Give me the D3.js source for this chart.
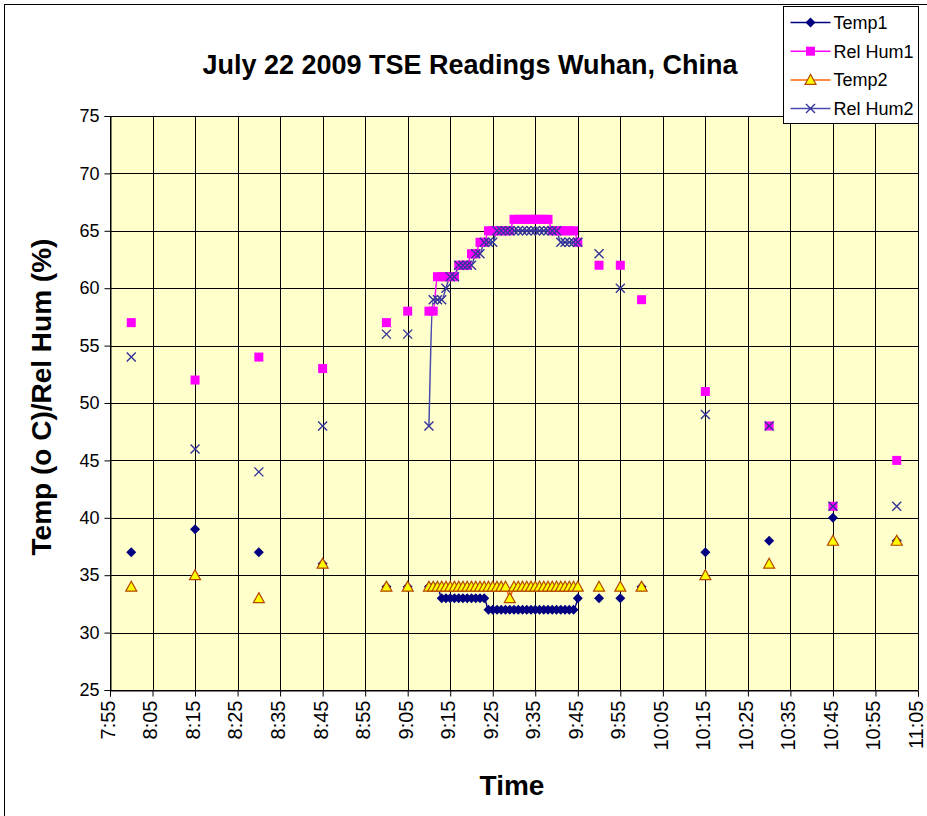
<!DOCTYPE html>
<html>
<head>
<meta charset="utf-8">
<script src="https://cdn.jsdelivr.net/npm/d3@7"></script>
<style>
  body { margin: 0; background: #fff; }
  svg { display: block; font-family: "Liberation Sans", Arial, sans-serif; }
</style>
</head>
<body>
<svg id="chart" width="927" height="816"></svg>
<script>

  // readings, one entry per time
  const times = [
    "8:00", "8:15", "8:30", "8:45", "9:00", "9:05",
    "9:10", "9:11", "9:12", "9:13", "9:14", "9:15", "9:16", "9:17", "9:18", "9:19",
    "9:20", "9:21", "9:22", "9:23", "9:24", "9:25", "9:26", "9:27", "9:28", "9:29",
    "9:30", "9:31", "9:32", "9:33", "9:34", "9:35", "9:36", "9:37", "9:38", "9:39",
    "9:40", "9:41", "9:42", "9:43", "9:44", "9:45",
    "9:50", "9:55", "10:00", "10:15", "10:30", "10:45", "11:00"
  ];

  const temp1 = [
    37, 39, 37, 36, 34, 34,
    34, 34, 34, 33, 33, 33, 33, 33, 33, 33,
    33, 33, 33, 33, 32, 32, 32, 32, 32, 32,
    32, 32, 32, 32, 32, 32, 32, 32, 32, 32,
    32, 32, 32, 32, 32, 33,
    33, 33, 34, 37, 38, 40, 38
  ];

  const relHum1 = [
    57, 52, 54, 53, 57, 58,
    58, 58, 61, 61, 61, 61, 61, 62, 62, 62,
    63, 63, 64, 64, 65, 65, 65, 65, 65, 65,
    66, 66, 66, 66, 66, 66, 66, 66, 66, 65,
    65, 65, 65, 65, 65, 64,
    62, 62, 59, 51, 48, 41, 45
  ];

  const temp2 = [
    34, 35, 33, 36, 34, 34,
    34, 34, 34, 34, 34, 34, 34, 34, 34, 34,
    34, 34, 34, 34, 34, 34, 34, 34, 34, 33,
    34, 34, 34, 34, 34, 34, 34, 34, 34, 34,
    34, 34, 34, 34, 34, 34,
    34, 34, 34, 35, 36, 38, 38
  ];

  const relHum2 = [
    54, 46, 44, 48, 56, 56,
    48, 59, 59, 59, 60, 61, 61, 62, 62, 62,
    62, 63, 63, 64, 64, 64, 65, 65, 65, 65,
    65, 65, 65, 65, 65, 65, 65, 65, 65, 65,
    65, 64, 64, 64, 64, 64,
    63, 60, null, 49, 48, 41, 41
  ];

  const seriesNames = ["Temp1", "Rel Hum1", "Temp2", "Rel Hum2"];
  const xTickLabels = ["7:55", "8:05", "8:15", "8:25", "8:35", "8:45", "8:55", "9:05", "9:15", "9:25",
                       "9:35", "9:45", "9:55", "10:05", "10:15", "10:25", "10:35", "10:45", "10:55", "11:05"];
  const yTicks = [25, 30, 35, 40, 45, 50, 55, 60, 65, 70, 75];

  const TITLE = "July 22 2009 TSE Readings Wuhan, China";
  const X_TITLE = "Time";
  const Y_TITLE = "Temp (o C)/Rel Hum (%)";

  // look of each series
  const styles = [
    { line: "#000080", fill: "#000080", stroke: "#000080", symbol: "diamond" },
    { line: "#FF00FF", fill: "#FF00FF", stroke: "#FF00FF", symbol: "square" },
    { line: "#FF6600", fill: "#FFFF00", stroke: "#B34700", symbol: "triangle" },
    { line: "#4B4BAE", fill: "none", stroke: "#333399", symbol: "cross" }
  ];

  const plot = { left: 110, right: 918, top: 116, bottom: 690 };

  function to_minutes(t) {
    const p = t.split(":");
    return +p[0] * 60 + +p[1];
  }

  const x = d3.scaleLinear()
    .domain([to_minutes(xTickLabels[0]), to_minutes(xTickLabels[xTickLabels.length - 1])])
    .range([plot.left, plot.right]);

  const y = d3.scaleLinear()
    .domain([25, 75])
    .range([plot.bottom, plot.top]);

  const svg = d3.select("#chart");

  // outer chart border
  svg.append("rect")
    .attr("x", 4.5).attr("y", 4.5)
    .attr("width", 960).attr("height", 840)
    .attr("fill", "#fff").attr("stroke", "#000").attr("stroke-width", 1);

  // plot background
  svg.append("rect")
    .attr("x", plot.left).attr("y", plot.top)
    .attr("width", plot.right - plot.left).attr("height", plot.bottom - plot.top)
    .attr("fill", "#FFFFCC");

  // grid
  const tickMinutes = xTickLabels.map(to_minutes);
  svg.append("g").selectAll("line.v")
    .data(tickMinutes)
    .join("line")
    .attr("x1", d => Math.round(x(d)) + 0.5).attr("x2", d => Math.round(x(d)) + 0.5)
    .attr("y1", plot.top).attr("y2", plot.bottom)
    .attr("stroke", "#000").attr("stroke-width", 1);

  svg.append("g").selectAll("line.h")
    .data(yTicks)
    .join("line")
    .attr("x1", plot.left).attr("x2", plot.right)
    .attr("y1", d => Math.round(y(d)) + 0.5).attr("y2", d => Math.round(y(d)) + 0.5)
    .attr("stroke", "#000").attr("stroke-width", 1);

  // axes
  const yAxis = d3.axisLeft(y).tickValues(yTicks).tickSize(6).tickPadding(5);
  const gy = svg.append("g")
    .attr("transform", "translate(" + (plot.left + 0.5) + ",0)")
    .call(yAxis);
  gy.select(".domain").attr("stroke", "#000");
  gy.selectAll("text").attr("font-size", 18).attr("font-family", "Liberation Sans, Arial, sans-serif").attr("fill", "#000");

  const xAxis = d3.axisBottom(x).tickValues(tickMinutes).tickSize(6)
    .tickFormat((d, i) => xTickLabels[i]);
  const gx = svg.append("g")
    .attr("transform", "translate(0," + (plot.bottom + 0.5) + ")")
    .call(xAxis);
  gx.select(".domain").attr("stroke", "#000");
  gx.selectAll("text")
    .attr("font-size", 20)
    .attr("font-family", "Liberation Sans, Arial, sans-serif")
    .attr("fill", "#000")
    .attr("text-anchor", "end")
    .attr("transform", "rotate(-90)")
    .attr("x", -10).attr("y", 0).attr("dy", "0.22em");

  // series data
  const mins = times.map(to_minutes);
  const allSeries = [temp1, relHum1, temp2, relHum2].map(function (vals, s) {
    return {
      name: seriesNames[s],
      style: styles[s],
      points: vals.map((v, i) => ({ m: mins[i], v: v })).filter(p => p.v != null)
    };
  });

  // lines only join readings taken one minute apart
  function runs(points) {
    let out = [];
    let cur = [];
    for (let i = 0; i < points.length; i++) {
      if (cur.length && points[i].m - cur[cur.length - 1].m !== 1) {
        out.push(cur);
        cur = [];
      }
      cur.push(points[i]);
    }
    if (cur.length) out.push(cur);
    return out.filter(r => r.length > 1);
  }

  const line = d3.line()
    .x(p => x(p.m))
    .y(p => y(p.v))
    .curve(d3.curveMonotoneX);

  allSeries.forEach(function (s) {
    svg.append("g").selectAll("path")
      .data(runs(s.points))
      .join("path")
      .attr("d", line)
      .attr("fill", "none")
      .attr("stroke", s.style.line)
      .attr("stroke-width", 1.5);
  });

  function marker(g, style, cx, cy) {
    if (style.symbol === "diamond") {
      g.append("path")
        .attr("d", `M${cx},${cy - 5}L${cx + 5},${cy}L${cx},${cy + 5}L${cx - 5},${cy}Z`)
        .attr("fill", style.fill);
    } else if (style.symbol === "square") {
      g.append("rect")
        .attr("x", cx - 4.5).attr("y", cy - 4.5)
        .attr("width", 9).attr("height", 9)
        .attr("fill", style.fill);
    } else if (style.symbol === "triangle") {
      g.append("path")
        .attr("d", `M${cx},${cy - 5.5}L${cx + 5.5},${cy + 4.5}L${cx - 5.5},${cy + 4.5}Z`)
        .attr("fill", style.fill)
        .attr("stroke", style.stroke)
        .attr("stroke-width", 1.2);
    } else {
      g.append("path")
        .attr("d", `M${cx - 4.5},${cy - 4.5}L${cx + 4.5},${cy + 4.5}M${cx + 4.5},${cy - 4.5}L${cx - 4.5},${cy + 4.5}`)
        .attr("stroke", style.stroke)
        .attr("stroke-width", 1.4);
    }
  }

  allSeries.forEach(function (s) {
    const g = svg.append("g");
    s.points.forEach(p => marker(g, s.style, x(p.m), y(p.v)));
  });

  // titles
  svg.append("text")
    .attr("x", 470).attr("y", 74)
    .attr("text-anchor", "middle")
    .attr("font-size", 27).attr("font-weight", "bold")
    .text(TITLE);

  svg.append("text")
    .attr("x", 512).attr("y", 795)
    .attr("text-anchor", "middle")
    .attr("font-size", 28).attr("font-weight", "bold")
    .text(X_TITLE);

  svg.append("text")
    .attr("transform", "translate(51,397) rotate(-90)")
    .attr("text-anchor", "middle")
    .attr("font-size", 28).attr("font-weight", "bold")
    .text(Y_TITLE);

  // legend
  const legend = svg.append("g").attr("transform", "translate(783.5,6.5)");
  legend.append("rect")
    .attr("width", 135).attr("height", 117)
    .attr("fill", "#fff").attr("stroke", "#000");

  allSeries.forEach(function (s, i) {
    const ly = 16 + i * 28.7;
    legend.append("line")
      .attr("x1", 7).attr("x2", 47)
      .attr("y1", ly).attr("y2", ly)
      .attr("stroke", s.style.line).attr("stroke-width", 1.5);
    marker(legend, s.style, 27, ly);
    legend.append("text")
      .attr("x", 50).attr("y", ly).attr("dy", "0.35em")
      .attr("font-size", 18)
      .text(s.name);
  });

</script>
</body>
</html>
